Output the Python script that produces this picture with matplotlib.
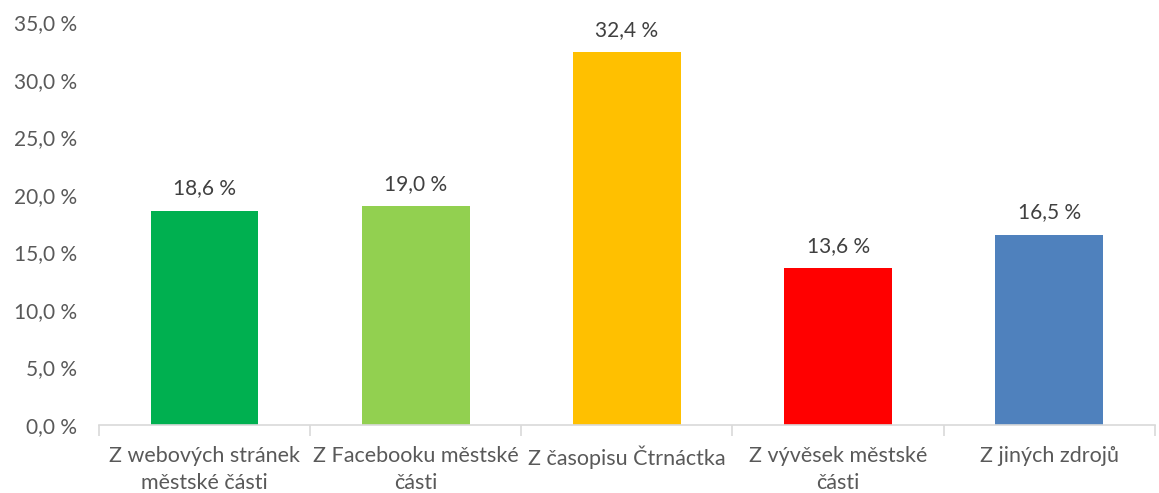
import matplotlib
matplotlib.use("Agg")
import matplotlib.pyplot as plt
from matplotlib.ticker import FuncFormatter, FixedLocator

categories = ["Z webových stránek\nměstské části", "Z Facebooku městské\nčásti",
              "Z časopisu Čtrnáctka", "Z vývěsek městské\nčásti", "Z jiných zdrojů"]
values = [18.6, 19.0, 32.4, 13.6, 16.5]
colors = ["#00B050", "#92D050", "#FFC000", "#FF0000", "#4F81BD"]

plt.rcParams['font.family'] = ['Lato', 'DejaVu Sans']
fig = plt.figure(figsize=(11.59, 4.93), dpi=100)
ax = fig.add_axes([0.0854, 0.138, 0.911, 0.817])

x = list(range(len(categories)))
ax.bar(x, values, width=0.51, color=colors, zorder=2)
for xi, v in zip(x, values):
    ax.annotate(f"{v:.1f} %".replace(".", ","), (xi, v), xytext=(0, 9),
                textcoords="offset points", ha="center", va="bottom",
                fontsize=15, color="#404040")

ax.set_xlim(-0.5, len(categories) - 0.5)
ax.set_ylim(0, 35)
ax.yaxis.set_major_locator(FixedLocator([0, 5, 10, 15, 20, 25, 30, 35]))
ax.yaxis.set_major_formatter(FuncFormatter(lambda v, p: f"{v:.1f} %".replace(".", ",")))
ax.set_xticks(x)
ax.set_xticklabels(categories, linespacing=1.45)
ax.tick_params(axis="x", length=0, pad=15, labelsize=15.5, labelcolor="#595959")
ax.tick_params(axis="y", length=0, pad=16, labelsize=15, labelcolor="#595959")
ax.set_xticks([i + 0.5 for i in range(-1, len(categories))], minor=True)
ax.tick_params(axis="x", which="minor", length=8, color="#D9D9D9", width=1.2)

for s in ["top", "right", "left"]:
    ax.spines[s].set_visible(False)
ax.spines["bottom"].set_color("#D9D9D9")
ax.spines["bottom"].set_linewidth(1.2)

fig.savefig("out.png", dpi=100)
